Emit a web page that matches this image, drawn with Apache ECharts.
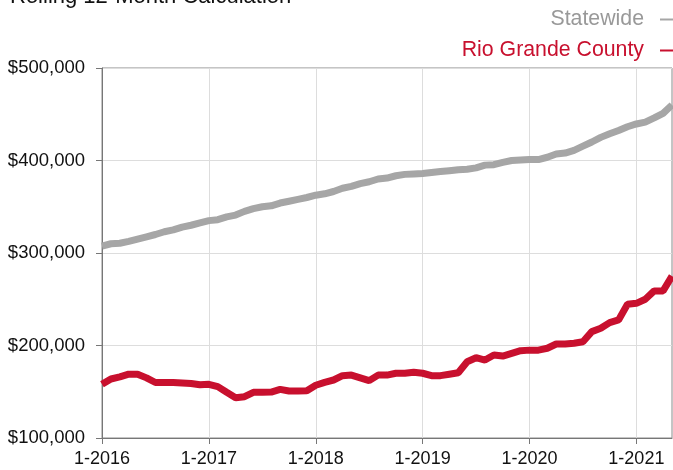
<!DOCTYPE html>
<html>
<head>
<meta charset="utf-8">
<script src="https://cdn.jsdelivr.net/npm/echarts@6/dist/echarts.min.js"></script>
<style>
  html, body { margin: 0; padding: 0; background: #fff; }
  #chart { width: 673px; height: 470px; }
</style>
</head>
<body>
<div id="chart"></div>
<script>
// monthly points, 1-2016 .. 5-2021
var months = [
  '1-2016','2-2016','3-2016','4-2016','5-2016','6-2016','7-2016','8-2016','9-2016','10-2016','11-2016','12-2016',
  '1-2017','2-2017','3-2017','4-2017','5-2017','6-2017','7-2017','8-2017','9-2017','10-2017','11-2017','12-2017',
  '1-2018','2-2018','3-2018','4-2018','5-2018','6-2018','7-2018','8-2018','9-2018','10-2018','11-2018','12-2018',
  '1-2019','2-2019','3-2019','4-2019','5-2019','6-2019','7-2019','8-2019','9-2019','10-2019','11-2019','12-2019',
  '1-2020','2-2020','3-2020','4-2020','5-2020','6-2020','7-2020','8-2020','9-2020','10-2020','11-2020','12-2020',
  '1-2021','2-2021','3-2021','4-2021','5-2021'
];

var statewide = [
  307500, 310000, 310500, 312500, 315000, 317500, 320000, 323000, 325000, 328000, 330000, 332500,
  335000, 336000, 339000, 341000, 345000, 348000, 350000, 351000, 354000, 356000, 358000, 360000,
  362500, 364000, 366500, 370000, 372000, 375000, 377000, 380000, 381000, 383500, 385000, 385500,
  386000, 387000, 388000, 389000, 390000, 390500, 392000, 395000, 395500, 398000, 400000, 400500,
  401000, 401000, 403500, 407000, 408000, 411000, 415500, 420000, 425000, 429000, 432500, 436500,
  439500, 441500, 446000, 451000, 460000
];

var rioGrande = [
  158000, 163800, 166000, 169000, 169000, 165000, 160000, 160000, 160000, 159500, 159000, 157500,
  158000, 155500, 149400, 143600, 144700, 149400, 149400, 149700, 152600, 150800, 150800, 151000,
  157000, 160200, 162700, 167400, 168000, 165000, 162000, 168000, 168000, 170000, 170000, 171000,
  170000, 167400, 167400, 169000, 170600, 182500, 186800, 184300, 189700, 188600, 191500, 194400,
  195000, 195000, 197000, 201600, 201600, 202400, 204000, 215000, 218600, 224700, 227600, 244500,
  245600, 250000, 259000, 259000, 275000
];

var yTicks = [100000, 200000, 300000, 400000, 500000];

function isJan(i) { return i % 12 === 0; }

var chart = echarts.init(document.getElementById('chart'));
chart.setOption({
  animation: false,
  textStyle: { fontFamily: 'Liberation Sans, Arial, sans-serif' },
  title: {
    text: 'Rolling 12-Month Calculation',
    left: 10,
    top: -14,
    padding: 0,
    textStyle: { fontSize: 22, fontWeight: 'normal', color: '#111' }
  },
  legend: {
    orient: 'vertical',
    right: 0,
    top: 9,
    align: 'right',
    itemGap: 10,
    itemWidth: 13,
    itemHeight: 2,
    icon: 'rect',
    padding: 0,
    selectedMode: false,
    textStyle: { fontSize: 21.3, padding: [0, 11, 0, 0] },
    data: [
      { name: 'Statewide', textStyle: { color: '#999999' } },
      { name: 'Rio Grande County', textStyle: { color: '#c8102e' } }
    ]
  },
  grid: {
    left: 102, right: 1, top: 68, bottom: 32,
    show: true, borderColor: '#8a8a8a', borderWidth: 1
  },
  xAxis: {
    type: 'category',
    data: months,
    boundaryGap: false,
    axisLine: { lineStyle: { color: '#777' } },
    axisTick: { interval: isJan, length: 6, lineStyle: { color: '#777' } },
    splitLine: { show: true, interval: isJan, lineStyle: { color: '#dddddd' } },
    axisLabel: { interval: isJan, color: '#111', fontSize: 18, margin: 12 }
  },
  yAxis: {
    type: 'value',
    min: yTicks[0],
    max: yTicks[yTicks.length - 1],
    interval: 100000,
    axisLine: { show: true, lineStyle: { color: '#777' } },
    axisTick: { show: true, length: 6, lineStyle: { color: '#777' } },
    splitLine: { lineStyle: { color: '#dddddd' } },
    axisLabel: {
      color: '#111', fontSize: 18.5, margin: 17,
      formatter: function (v) { return '$' + v.toLocaleString('en-US'); }
    }
  },
  series: [
    {
      name: 'Statewide', type: 'line', data: statewide,
      symbol: 'none', lineStyle: { width: 7, color: '#a6a6a6' }, itemStyle: { color: '#a6a6a6' }
    },
    {
      name: 'Rio Grande County', type: 'line', data: rioGrande,
      symbol: 'none', lineStyle: { width: 7, color: '#c8102e' }, itemStyle: { color: '#c8102e' }
    }
  ]
});
</script>
</body>
</html>
